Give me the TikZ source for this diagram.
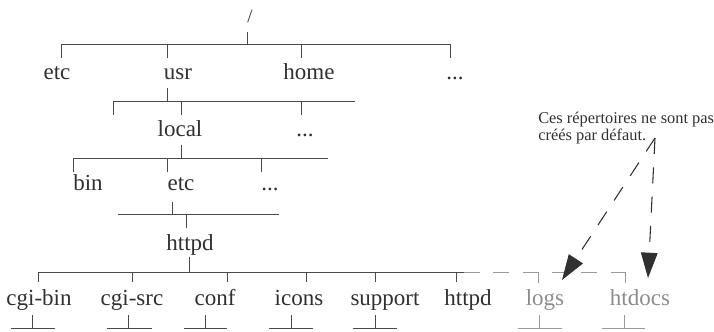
\documentclass[tikz,border=0pt]{standalone}
\usepackage{fontspec}
\setmainfont{Liberation Serif}
\usetikzlibrary{arrows.meta}
\definecolor{ink}{HTML}{303030}
\definecolor{linec}{HTML}{4A4A4A}
\definecolor{pale}{HTML}{8C8C8C}
\definecolor{palel}{HTML}{9A9A9A}
\begin{document}
\begin{tikzpicture}[x=0.75pt,y=-0.75pt,
  lbl/.style={anchor=base,inner sep=0pt,text=ink,font=\fontsize{17.25}{20}\selectfont},
  gl/.style={lbl,text=pale},
  tree/.style={draw=linec,line width=0.75pt},
  ghost/.style={draw=palel,line width=0.75pt},
  dsh/.style={dash pattern=on 12pt off 10pt},
  arr/.style={draw=ink,line width=0.8pt,dash pattern=on 12pt off 10pt,-{Triangle[length=19pt,width=12.5pt]}}]
\useasboundingbox (0,0) rectangle (714,332);
% root
\node[anchor=base,inner sep=0pt,text=ink,font=\fontsize{14}{15}\selectfont] (root) at (250,22) {/};
\draw[tree] (247,32) -- (247,44);
\draw[tree] (61,44) -- (450,44);
\foreach \x in {61,167,301,450} \draw[tree] (\x,44) -- (\x,58);
\node[lbl] (etcA) at (57,79) {etc};
\node[lbl] (usr) at (178,79) {usr};
\node[lbl] (home) at (309,79) {home};
\node[lbl] (dotsA) at (455,79) {...};
% usr
\draw[tree] (167,88) -- (167,101);
\draw[tree] (113,101) -- (355,101);
\foreach \x in {113,181,301} \draw[tree] (\x,101) -- (\x,115);
\node[lbl] (local) at (180,136) {local};
\node[lbl] (dotsB) at (305,136) {...};
% local
\draw[tree] (181,145) -- (181,158);
\draw[tree] (73,158) -- (328,158);
\foreach \x in {73,167,261} \draw[tree] (\x,158) -- (\x,172);
\node[lbl] (bin) at (88,190) {bin};
\node[lbl] (etcB) at (181,190) {etc};
\node[lbl] (dotsC) at (270,190) {...};
% etc
\draw[tree] (172,202) -- (172,214);
\draw[tree] (118,214) -- (279,214);
\draw[tree] (186,214) -- (186,228);
\node[lbl] (httpdA) at (190,250) {httpd};
% httpd
\draw[tree] (189,257) -- (189,272);
\draw[tree] (38,272) -- (464,272);
\draw[ghost,dsh] (464,272) -- (625,272);
\foreach \x in {38,132,227,306,375,456} \draw[tree] (\x,272) -- (\x,282);
\foreach \x in {538,625} \draw[ghost] (\x,272) -- (\x,283);
\node[lbl] (cgibin) at (39,305) {cgi-bin};
\node[lbl] (cgisrc) at (132,305) {cgi-src};
\node[lbl] (conf) at (215,305) {conf};
\node[lbl] (icons) at (299,305) {icons};
\node[lbl] (support) at (385,305) {support};
\node[lbl] (httpdB) at (468,305) {httpd};
\node[gl] (logs) at (545,305) {logs};
\node[gl] (htdocs) at (640,305) {htdocs};
% leaf stubs
\foreach \x/\a/\b in {32/11/55,128/107/152,205/184/227,291/269/313,375/353/397}
  \draw[tree] (\x,315) -- (\x,328) (\a,328) -- (\b,328);
\foreach \x/\a/\b in {539/518/562,624/602/645}
  \draw[ghost] (\x,315) -- (\x,328) (\a,328) -- (\b,328);
% note
\node[anchor=north west,inner sep=0pt,align=left,text=ink,font=\fontsize{12.3}{12.9}\selectfont] (note) at (538,112) {Ces répertoires ne sont pas\\créés par défaut.};
\coordinate (src) at (655,138);
\coordinate (tipA) at (562,280);
\coordinate (tipB) at (648,278);
\draw[arr] (src) -- (tipA);
\draw[arr] (src) -- (tipB);
\end{tikzpicture}
\end{document}
